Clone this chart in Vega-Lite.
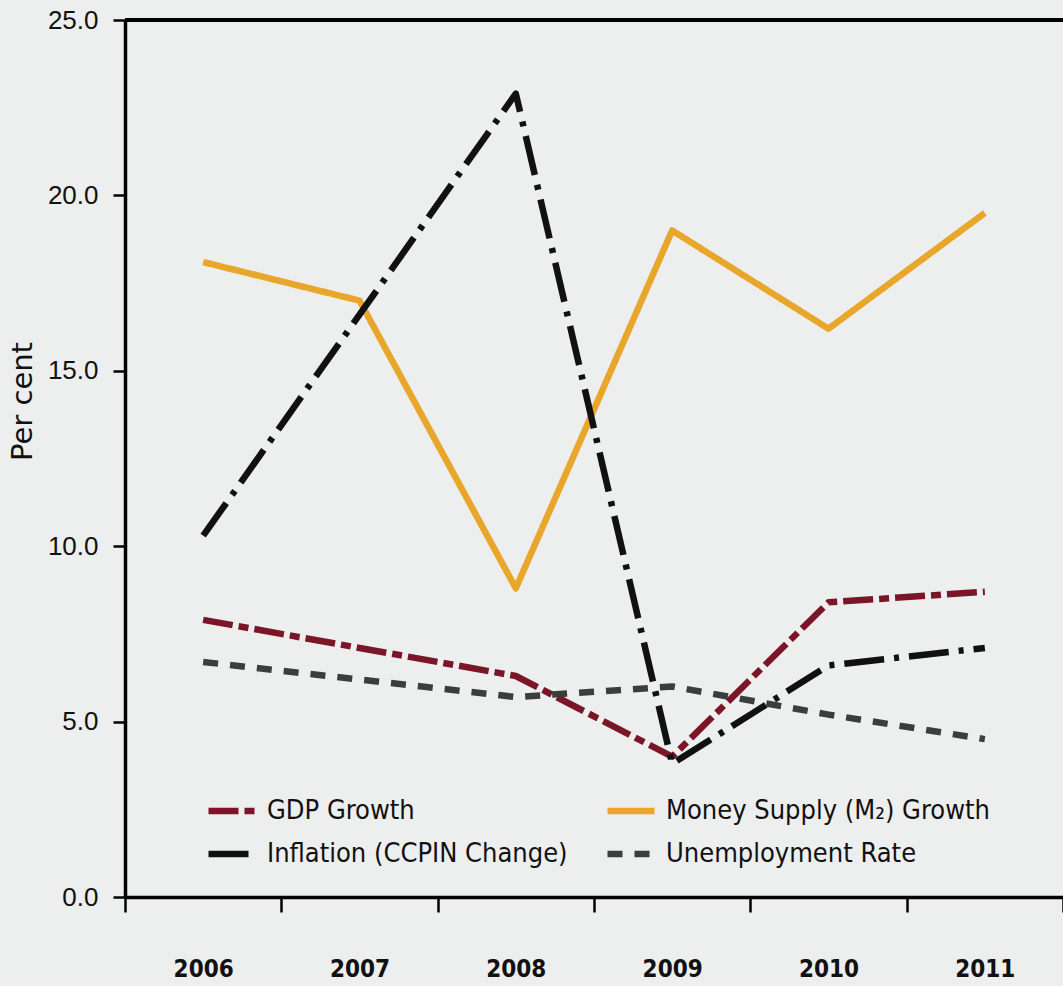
{
  "$schema": "https://vega.github.io/schema/vega-lite/v6.json",
  "width": 938,
  "height": 877,
  "autosize": {"type": "none"},
  "padding": {"left": 125, "top": 20, "right": 0, "bottom": 89},
  "background": "#edeeee",
  "config": {"view": {"stroke": null}, "font": "Liberation Sans"},
  "data": {
    "values": [
      {"year": "2006", "series": "GDP Growth", "value": 7.9},
      {"year": "2007", "series": "GDP Growth", "value": 7.1},
      {"year": "2008", "series": "GDP Growth", "value": 6.3},
      {"year": "2009", "series": "GDP Growth", "value": 4.0},
      {"year": "2010", "series": "GDP Growth", "value": 8.4},
      {"year": "2011", "series": "GDP Growth", "value": 8.7},
      {"year": "2006", "series": "Money Supply (M₂) Growth", "value": 18.1},
      {"year": "2007", "series": "Money Supply (M₂) Growth", "value": 17.0},
      {"year": "2008", "series": "Money Supply (M₂) Growth", "value": 8.8},
      {"year": "2009", "series": "Money Supply (M₂) Growth", "value": 19.0},
      {"year": "2010", "series": "Money Supply (M₂) Growth", "value": 16.2},
      {"year": "2011", "series": "Money Supply (M₂) Growth", "value": 19.5},
      {"year": "2006", "series": "Inflation (CCPIN Change)", "value": 10.3},
      {"year": "2007", "series": "Inflation (CCPIN Change)", "value": 16.6},
      {"year": "2008", "series": "Inflation (CCPIN Change)", "value": 22.9},
      {"year": "2009", "series": "Inflation (CCPIN Change)", "value": 3.8},
      {"year": "2010", "series": "Inflation (CCPIN Change)", "value": 6.6},
      {"year": "2011", "series": "Inflation (CCPIN Change)", "value": 7.1},
      {"year": "2006", "series": "Unemployment Rate", "value": 6.7},
      {"year": "2007", "series": "Unemployment Rate", "value": 6.2},
      {"year": "2008", "series": "Unemployment Rate", "value": 5.7},
      {"year": "2009", "series": "Unemployment Rate", "value": 6.0},
      {"year": "2010", "series": "Unemployment Rate", "value": 5.2},
      {"year": "2011", "series": "Unemployment Rate", "value": 4.5}
    ]
  },
  "layer": [
    {
      "mark": {"type": "rule", "color": "#000000", "strokeWidth": 3.5},
      "encoding": {"y": {"datum": 25, "type": "quantitative"}}
    },
    {
      "mark": {"type": "line", "strokeWidth": 6.5, "strokeCap": "butt", "strokeJoin": "round"},
      "encoding": {
        "x": {
          "field": "year",
          "type": "ordinal",
          "bandPosition": 0.5,
          "scale": {"type": "band", "paddingInner": 0, "paddingOuter": 0},
          "axis": {
            "title": null,
            "tickBand": "extent",
            "domainColor": "#000000",
            "domainWidth": 3.5,
            "tickColor": "#000000",
            "tickWidth": 2.5,
            "tickSize": 15,
            "labelAngle": 0,
            "labelPadding": 45,
            "labelFont": "DejaVu Sans Condensed",
            "labelFontSize": 24,
            "labelFontWeight": "bold",
            "labelColor": "#111111"
          }
        },
        "y": {
          "field": "value",
          "type": "quantitative",
          "scale": {"domain": [0, 25], "nice": false},
          "axis": {
            "title": "Per cent",
            "titleFont": "DejaVu Sans",
            "titleFontSize": 29,
            "titleFontWeight": "normal",
            "titleColor": "#111111",
            "titlePadding": 10,
            "titleY": 381,
            "values": [0, 5, 10, 15, 20, 25],
            "format": ".1f",
            "grid": false,
            "domainColor": "#000000",
            "domainWidth": 3.5,
            "tickColor": "#000000",
            "tickWidth": 2.5,
            "tickSize": 12,
            "labelPadding": 15,
            "labelFont": "Liberation Sans",
            "labelFontSize": 26,
            "labelColor": "#111111"
          }
        },
        "color": {
          "field": "series",
          "type": "nominal",
          "sort": ["GDP Growth", "Inflation (CCPIN Change)", "Money Supply (M₂) Growth", "Unemployment Rate"],
          "scale": {
            "domain": ["GDP Growth", "Inflation (CCPIN Change)", "Money Supply (M₂) Growth", "Unemployment Rate"],
            "range": ["#7b1528", "#111111", "#e8a72a", "#3b3f3c"]
          },
          "legend": {
            "title": null,
            "orient": "none",
            "legendX": 80,
            "legendY": 764,
            "columns": 2,
            "columnPadding": 26,
            "rowPadding": 3,
            "symbolType": "stroke",
            "symbolSize": 2209,
            "symbolStrokeWidth": 6.5,
            "labelOffset": 8,
            "labelFont": "DejaVu Sans Condensed",
            "labelFontSize": 27,
            "labelColor": "#111111",
            "labelLimit": 500
          }
        },
        "strokeDash": {
          "field": "series",
          "type": "nominal",
          "sort": ["GDP Growth", "Inflation (CCPIN Change)", "Money Supply (M₂) Growth", "Unemployment Rate"],
          "scale": {
            "domain": ["GDP Growth", "Inflation (CCPIN Change)", "Money Supply (M₂) Growth", "Unemployment Rate"],
            "range": [[30, 6, 10, 6], [40, 10, 5, 10], [1, 0], [15, 12]]
          },
          "legend": {
            "title": null,
            "orient": "none",
            "legendX": 80,
            "legendY": 764,
            "columns": 2,
            "columnPadding": 26,
            "rowPadding": 3,
            "symbolType": "stroke",
            "symbolSize": 2209,
            "symbolStrokeWidth": 6.5,
            "labelOffset": 8,
            "labelFont": "DejaVu Sans Condensed",
            "labelFontSize": 27,
            "labelColor": "#111111",
            "labelLimit": 500
          }
        }
      }
    }
  ]
}
